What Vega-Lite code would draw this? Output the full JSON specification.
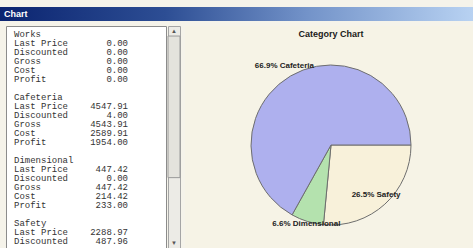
{
  "$schema": "https://vega.github.io/schema/vega-lite/v6.json",
  "background": "#f5f3ea",
  "padding": {"top": 7, "left": 0, "right": 0, "bottom": 0},
  "config": {"view": {"stroke": null}},
  "spacing": 4,
  "vconcat": [
    {
      "width": 473,
      "height": 14,
      "data": {"values": [{"caption": "Chart"}]},
      "layer": [
        {
          "mark": {"type": "rect", "color": {"gradient": "linear", "x1": 0, "y1": 0, "x2": 1, "y2": 0, "stops": [{"offset": 0, "color": "#0b2470"}, {"offset": 0.35, "color": "#2d4e94"}, {"offset": 0.65, "color": "#7393c9"}, {"offset": 1, "color": "#b8d2f2"}]}},
          "encoding": {}
        },
        {
          "mark": {"type": "text", "align": "left", "baseline": "middle", "color": "white", "fontWeight": "bold", "font": "Liberation Sans", "fontSize": 9, "dx": 4},
          "encoding": {"text": {"field": "caption"}, "x": {"value": 0}}
        }
      ]
    },
    {
      "spacing": 4,
      "hconcat": [
        {
          "width": 1,
          "height": 223,
          "data": {"values": []},
          "mark": "point",
          "encoding": {}
        },
        {
          "spacing": 0,
          "hconcat": [
            {
              "width": 160,
              "height": 223,
              "view": {"fill": "white", "stroke": "#8c8c8c"},
              "data": {"values": [
                {"line": 0, "item": "Works", "amount": ""},
                {"line": 1, "item": "Last Price", "amount": "0.00"},
                {"line": 2, "item": "Discounted", "amount": "0.00"},
                {"line": 3, "item": "Gross", "amount": "0.00"},
                {"line": 4, "item": "Cost", "amount": "0.00"},
                {"line": 5, "item": "Profit", "amount": "0.00"},
                {"line": 7, "item": "Cafeteria", "amount": ""},
                {"line": 8, "item": "Last Price", "amount": "4547.91"},
                {"line": 9, "item": "Discounted", "amount": "4.00"},
                {"line": 10, "item": "Gross", "amount": "4543.91"},
                {"line": 11, "item": "Cost", "amount": "2589.91"},
                {"line": 12, "item": "Profit", "amount": "1954.00"},
                {"line": 14, "item": "Dimensional", "amount": ""},
                {"line": 15, "item": "Last Price", "amount": "447.42"},
                {"line": 16, "item": "Discounted", "amount": "0.00"},
                {"line": 17, "item": "Gross", "amount": "447.42"},
                {"line": 18, "item": "Cost", "amount": "214.42"},
                {"line": 19, "item": "Profit", "amount": "233.00"},
                {"line": 21, "item": "Safety", "amount": ""},
                {"line": 22, "item": "Last Price", "amount": "2288.97"},
                {"line": 23, "item": "Discounted", "amount": "487.96"}
              ]},
              "encoding": {
                "y": {"field": "line", "type": "quantitative", "scale": {"domain": [-0.89, 23.89], "reverse": true, "zero": false, "nice": false}, "axis": null}
              },
              "layer": [
                {
                  "mark": {"type": "text", "align": "left", "baseline": "middle", "font": "Liberation Mono", "fontSize": 9, "color": "#333333", "clip": true},
                  "encoding": {
                    "text": {"field": "item"},
                    "x": {"datum": 0, "type": "quantitative", "scale": {"domain": [0, 1], "range": [8, 122], "zero": false, "nice": false}, "axis": null}
                  }
                },
                {
                  "mark": {"type": "text", "align": "right", "baseline": "middle", "font": "Liberation Mono", "fontSize": 9, "color": "#333333", "clip": true},
                  "encoding": {
                    "text": {"field": "amount"},
                    "x": {"datum": 1, "type": "quantitative"}
                  }
                }
              ]
            },
            {
              "width": 12,
              "height": 223,
              "view": {"fill": "#ecebe6", "stroke": "#a5a5a5"},
              "data": {"values": [{"part": "thumb"}]},
              "layer": [
                {
                  "mark": {"type": "rect", "color": "#e4e3dd", "stroke": "#9a9a9a", "strokeWidth": 1},
                  "encoding": {
                    "y": {"datum": 0.045, "type": "quantitative", "scale": {"domain": [0, 1], "reverse": true, "zero": false, "nice": false}, "axis": null},
                    "y2": {"datum": 0.68}
                  }
                },
                {
                  "mark": {"type": "text", "text": "▲", "fontSize": 6, "color": "#555555", "baseline": "middle"},
                  "encoding": {"y": {"datum": 0.022, "type": "quantitative"}}
                },
                {
                  "mark": {"type": "text", "text": "▼", "fontSize": 6, "color": "#555555", "baseline": "middle"},
                  "encoding": {"y": {"datum": 0.975, "type": "quantitative"}}
                }
              ]
            }
          ]
        },
        {
          "spacing": 0,
          "vconcat": [
            {
              "width": 292,
              "height": 15,
              "view": {"fill": "#f6f3e6"},
              "data": {"values": [{"heading": "Category Chart"}]},
              "mark": {"type": "text", "font": "Liberation Sans", "fontSize": 9, "fontWeight": "bold", "color": "#1a1a1a", "baseline": "middle"},
              "encoding": {"text": {"field": "heading"}}
            },
            {
              "width": 292,
              "height": 208,
              "view": {"fill": "#f6f3e6"},
              "data": {"values": [
                {"cat": "Safety", "value": 1800.0, "rank": 1, "label": "26.5% Safety"},
                {"cat": "Dimensional", "value": 447.42, "rank": 2, "label": "6.6% Dimensional"},
                {"cat": "Cafeteria", "value": 4543.91, "rank": 3, "label": "66.9% Cafeteria"}
              ]},
              "encoding": {
                "theta": {"field": "value", "type": "quantitative", "stack": true, "scale": {"range": [1.5708, 7.854]}},
                "order": {"field": "rank", "type": "quantitative"}
              },
              "layer": [
                {
                  "mark": {"type": "arc", "outerRadius": 80, "stroke": "#6e6e6e", "strokeWidth": 1},
                  "encoding": {
                    "color": {"field": "cat", "type": "nominal", "scale": {"domain": ["Cafeteria", "Dimensional", "Safety"], "range": ["#aeb0ee", "#b4e2ae", "#f8f1da"]}, "legend": null}
                  }
                },
                {
                  "mark": {"type": "text", "font": "Liberation Sans", "fontSize": 8, "fontWeight": "bold", "baseline": "middle", "color": "#222222",
                    "radius": {"expr": "datum.cat === 'Safety' ? 67 : datum.cat === 'Dimensional' ? 83 : 92"}},
                  "encoding": {"text": {"field": "label"}}
                }
              ]
            }
          ]
        }
      ]
    }
  ]
}
